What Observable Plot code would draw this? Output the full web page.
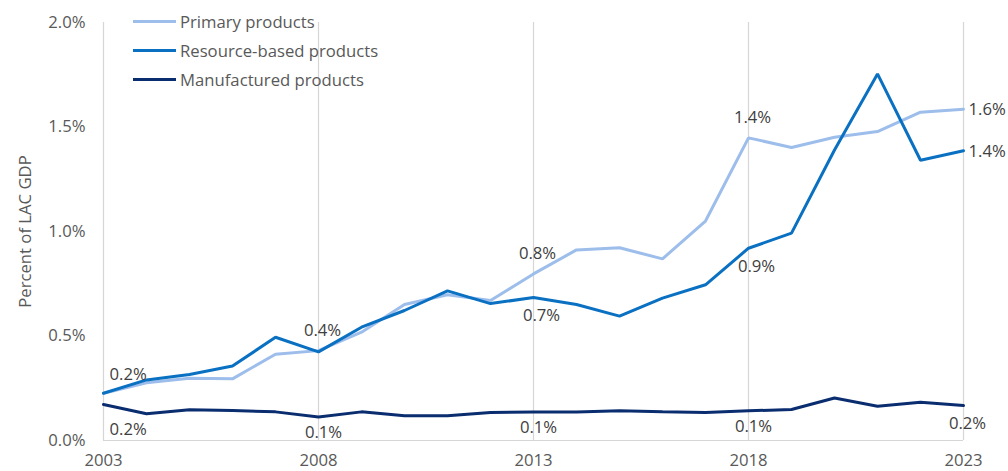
<!DOCTYPE html>
<html><head><meta charset="utf-8">
<script src="https://cdn.jsdelivr.net/npm/d3@7"></script>
<script src="https://cdn.jsdelivr.net/npm/@observablehq/plot@0.6"></script>
<style>
body{margin:0;background:#fff;font-family:"Open Sans",sans-serif;}
#wrap{position:relative;width:1008px;height:471px;}
#legend{position:absolute;left:133px;top:7px;font-size:16.7px;color:#595959;}
.item{display:flex;align-items:center;height:29px;}
.sw{width:43px;height:3px;margin-right:4px;}
</style></head><body><div id="wrap"><div id="legend"></div></div>
<script>
const years = [2003,2004,2005,2006,2007,2008,2009,2010,2011,2012,2013,2014,2015,2016,2017,2018,2019,2020,2021,2022,2023];
const seriesNames = ["Primary products","Resource-based products","Manufactured products"];
const seriesColors = ["#9DBDEB","#0A70C2","#0A2D70"];
const primary = [0.226,0.276,0.298,0.295,0.413,0.430,0.518,0.651,0.697,0.670,0.797,0.912,0.922,0.869,1.050,1.448,1.402,1.451,1.478,1.571,1.585];
const resource = [0.226,0.290,0.316,0.356,0.494,0.424,0.542,0.622,0.716,0.655,0.684,0.651,0.595,0.681,0.745,0.920,0.992,1.390,1.754,1.341,1.386];
const manufactured = [0.172,0.128,0.147,0.144,0.137,0.112,0.137,0.118,0.118,0.134,0.136,0.136,0.142,0.137,0.134,0.142,0.148,0.203,0.164,0.183,0.167];
const xTicks = [2003,2008,2013,2018,2023];
const yTicks = [0,0.5,1.0,1.5,2.0];
const primaryLabelYears = [2003,2008,2013,2018,2023];
const resourceLabelYears = [2013,2018,2023];
const manufLabelYears = [2003,2008,2013,2018,2023];

const seriesValues = [primary, resource, manufactured];
const data = [];
seriesNames.forEach((s,i)=> years.forEach((yr,j)=> data.push({series:s, year:yr, value:seriesValues[i][j]})));
const fmt = d => d.toFixed(1) + "%";
const pick = (s, yrs) => data.filter(d => d.series === s && yrs.includes(d.year));
const first = years[0], last = years[years.length-1];
const mid = yrs => yrs.filter(y => y !== first && y !== last);

const labelStyle = {x:"year", y:"value", text: d => fmt(d.value), fill:"#404040", fontSize:16.7};
const textMarks = [
  Plot.text(pick(seriesNames[0], mid(primaryLabelYears)), {...labelStyle, dy:-20, dx:4}),
  Plot.text(pick(seriesNames[0], primaryLabelYears.filter(y=>y===first)), {...labelStyle, dy:-19, dx:6, textAnchor:"start"}),
  Plot.text(pick(seriesNames[0], primaryLabelYears.filter(y=>y===last)), {...labelStyle, dx:5, textAnchor:"start"}),
  Plot.text(pick(seriesNames[1], mid(resourceLabelYears)), {...labelStyle, dy:18, dx:8}),
  Plot.text(pick(seriesNames[1], resourceLabelYears.filter(y=>y===last)), {...labelStyle, dx:5, dy:1, textAnchor:"start"}),
  Plot.text(pick(seriesNames[2], mid(manufLabelYears)), {...labelStyle, dy:16, dx:5}),
  Plot.text(pick(seriesNames[2], manufLabelYears.filter(y=>y===first)), {...labelStyle, dy:25, dx:6, textAnchor:"start"}),
  Plot.text(pick(seriesNames[2], manufLabelYears.filter(y=>y===last)), {...labelStyle, dy:18, dx:4}),
];

const chart = Plot.plot({
  width:1008, height:471,
  marginLeft:103, marginRight:45, marginTop:22, marginBottom:31,
  style:{fontFamily:"'Open Sans', sans-serif", fontSize:"16.7px", color:"#595959", background:"transparent"},
  x:{domain:[first,last]},
  y:{domain:[0,2]},
  color:{domain:seriesNames, range:seriesColors},
  marks:[
    Plot.ruleX(xTicks, {stroke:"#D6D6D6", strokeWidth:1.2}),
    Plot.ruleY([0], {stroke:"#D6D6D6", strokeWidth:1.2}),
    Plot.axisX({ticks:xTicks, tickSize:0, tickPadding:14, tickFormat:d=>String(d), label:null}),
    Plot.axisY({ticks:yTicks, tickSize:0, tickPadding:18, tickFormat:fmt, label:"Percent of LAC GDP", labelAnchor:"center", labelArrow:"none", labelOffset:84}),
    Plot.line(data, {x:"year", y:"value", z:"series", stroke:"series", strokeWidth:3, strokeLinejoin:"miter", curve:"linear"}),
    ...textMarks
  ]
});
document.getElementById("wrap").prepend(chart);
const leg = document.getElementById("legend");
seriesNames.forEach((s,i)=>{
  const it = document.createElement("div"); it.className="item";
  const sw = document.createElement("span"); sw.className="sw"; sw.style.background=seriesColors[i];
  const tx = document.createElement("span"); tx.textContent = s;
  it.append(sw, tx); leg.append(it);
});
</script></body></html>
